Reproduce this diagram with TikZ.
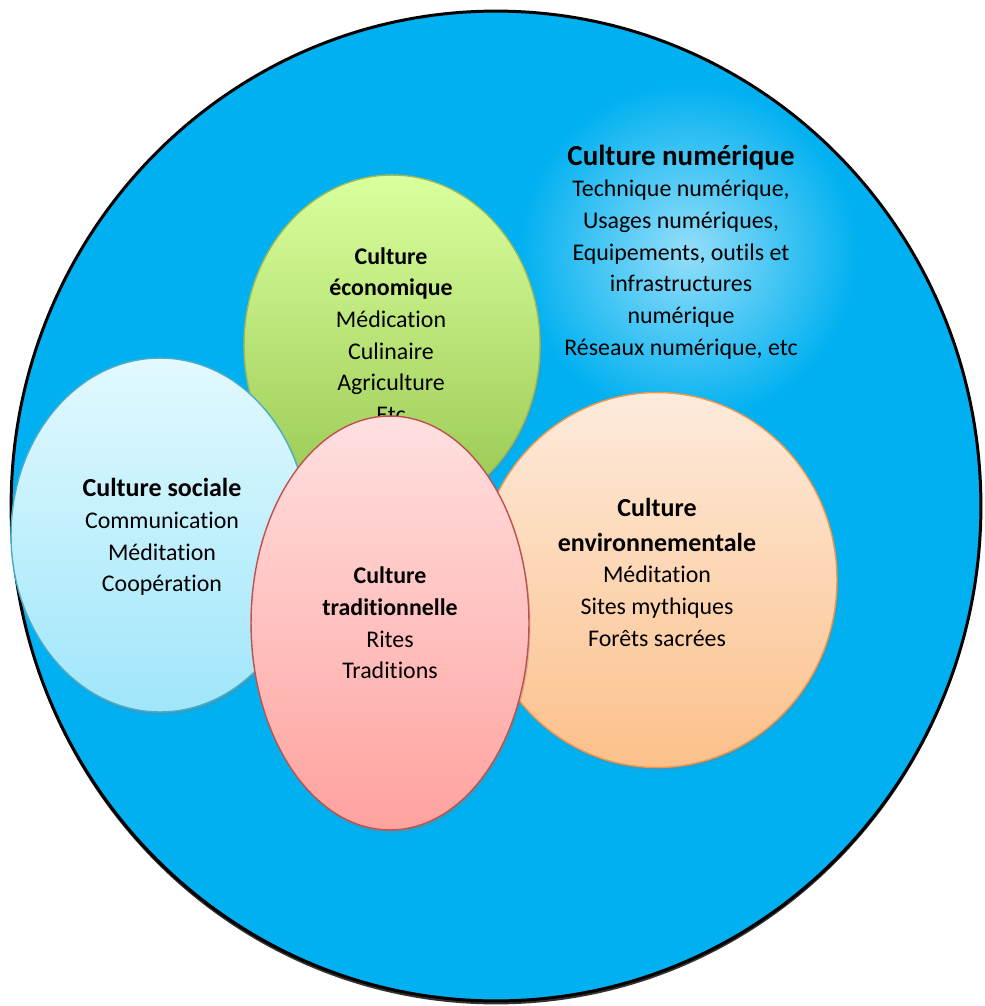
\documentclass[tikz,border=0pt]{standalone}
\usepackage{fontspec}
\setmainfont{Carlito}[Ligatures=NoCommon]
\usetikzlibrary{shapes.geometric,shadows}
\definecolor{bigblue}{RGB}{0,176,240}
\definecolor{ecotop}{RGB}{218,255,158}
\definecolor{ecobot}{RGB}{150,198,78}
\definecolor{ecoline}{RGB}{155,187,89}
\definecolor{soctop}{RGB}{226,249,255}
\definecolor{socbot}{RGB}{160,230,250}
\definecolor{socline}{RGB}{75,172,198}
\definecolor{envtop}{RGB}{253,235,220}
\definecolor{envbot}{RGB}{252,192,138}
\definecolor{envline}{RGB}{247,150,70}
\definecolor{tratop}{RGB}{255,224,224}
\definecolor{trabot}{RGB}{255,162,158}
\definecolor{traline}{RGB}{192,80,77}
\tikzset{
  blob/.style={ellipse, inner sep=0pt, outer sep=0pt, line width=0.8pt,
    drop shadow={shadow xshift=0.03cm, shadow yshift=-0.06cm, opacity=0.3}},
  txt/.style={align=center, inner sep=0pt, font=\fontsize{13.6}{18}\selectfont},
  hd/.style={font=\bfseries}
}
\newcommand{\bighd}[1]{{\bfseries\fontsize{14.8}{18}\selectfont #1}}
\begin{document}
\begin{tikzpicture}[x=0.02cm, y=-0.02cm]
\useasboundingbox (0,0) rectangle (984,1006);
\clip (0,0) rectangle (984,1006);
% grand cercle
\node[ellipse, draw=black, line width=1.7pt, fill=bigblue, minimum width=19.4cm, minimum height=19.8cm,
  drop shadow={shadow xshift=0cm, shadow yshift=-0.07cm, opacity=0.8, fill=black}] (num) at (496,506) {};
\shade[inner color=white!58!bigblue, outer color=bigblue] (688,252) circle (170);
\node[txt] (numtxt) at (681,252) {{\bfseries\fontsize{16.5}{18}\selectfont Culture numérique}\\Technique numérique,\\Usages numériques,\\Equipements, outils et\\infrastructures\\numérique\\Réseaux numérique, etc};
% economique
\node[blob, draw=ecoline, top color=ecotop, bottom color=ecobot, minimum width=5.92cm, minimum height=6.8cm] (eco) at (392,345) {};
\node[txt] (ecotxt) at (391,335) {\textbf{Culture}\\\textbf{économique}\\Médication\\Culinaire\\Agriculture\\Etc};
% sociale
\node[blob, draw=socline, top color=soctop, bottom color=socbot, minimum width=5.96cm, minimum height=7.08cm] (soc) at (160,535) {};
\node[txt] (soctxt) at (162,537) {\bighd{Culture sociale}\\Communication\\Méditation\\Coopération};
% environnementale
\node[blob, draw=envline, top color=envtop, bottom color=envbot, minimum width=7.2cm, minimum height=7.5cm] (env) at (657,580) {};
\node[txt] (envtxt) at (657,572) {\bighd{Culture}\\[2pt]\bighd{environnementale}\\Méditation\\Sites mythiques\\Forêts sacrées};
% traditionnelle
\node[blob, draw=traline, top color=tratop, bottom color=trabot, minimum width=5.56cm, minimum height=8.28cm] (tra) at (390,623) {};
\node[txt] (tratxt) at (390,623) {\textbf{Culture}\\\textbf{traditionnelle}\\Rites\\Traditions};
\end{tikzpicture}
\end{document}
